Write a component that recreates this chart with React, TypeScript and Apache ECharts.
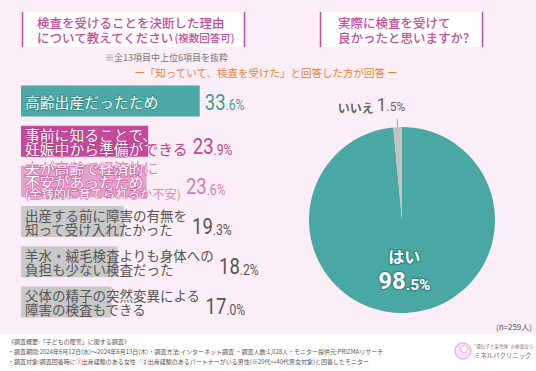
import React, { useEffect, useRef } from 'react';
import * as echarts from 'echarts';

// ---------- data ----------
const categories = [
  '高齢出産だったため',
  '事前に知ることで、\n妊娠中から準備ができる',
  '夫が高齢で経済的に\n不安があったため\n(金銭的に育てられるか不安)',
  '出産する前に障害の有無を\n知って受け入れたかった',
  '羊水・絨毛検査よりも身体への\n負担も少ない検査だった',
  '父体の精子の突然変異による\n障害の検査もできる',
];
const values = [33.6, 23.9, 23.6, 19.3, 18.2, 17.0];
const pieNames = ['はい', 'いいえ'];
const pieValues = [98.5, 1.5];

const title1 = ['検査を受けることを決断した理由', 'について教えてください', '(複数回答可)'];
const title2 = ['実際に検査を受けて', '良かったと思いますか?'];
const note = '※全13項目中上位6項目を抜粋';
const subNote = 'ー「知っていて、検査を受けた」と回答した方が回答 ー';
const sampleNote = '(n=259人)';
const footerLines = [
  '《調査概要:「子どもの障害」に関する調査》',
  '・調査期間:2024年6月12日(水)～2024年6月13日(木)・調査方法:インターネット調査 ・調査人数:1,028人・モニター提供元:PRIZMAリサーチ',
  '・調査対象:調査回答時に①出産経験のある女性／②出産経験のあるパートナーがいる男性(※20代～40代男女対象)と回答したモニター',
];
const logoLines = ['“遺伝子と染色体”の検査なら', 'ミネルバクリニック'];

// ---------- styles ----------
const FONT = '"Noto Sans CJK JP", "Noto Sans", sans-serif';
const NUM_FONT = 'Roboto, "Liberation Sans", sans-serif';
const HEAD = '#c54d99';
const barColors = ['#4ca9a5', '#c64a9b', '#e6a3cd', '#c9c9c9', '#c9c9c9', '#c9c9c9'];
const outsideText = ['#3f9d99', '#c2438f', '#dd86bd', '#555555', '#555555', '#555555'];
const strokeText = ['#2f8783', '#a93582', '#cf67a7', '', '', ''];
const strokeWidth = [1.4, 1.2, 1.6, 0, 0, 0];
const valueColors = ['#3f9d99', '#c2438f', '#d77ab4', '#555555', '#555555', '#555555'];
const whiteInside = [true, true, true, false, false, false];
const pieColors = ['#4aa8a4', '#c2c2c2'];

let ctx: CanvasRenderingContext2D | null = null;
function measure(text: string, size: number) {
  if (!ctx) ctx = document.createElement('canvas').getContext('2d');
  if (!ctx) return text.length * size;
  ctx.font = `${size}px ${FONT}`;
  return ctx.measureText(text).width;
}

const renderItem = (params: any, api: any) => {
  const i = params.dataIndex;
  const v = api.value(0);
  const p0 = api.coord([0, i]);
  const p1 = api.coord([v, i]);
  const cy = p0[1];
  const tx = p0[0] + 4;
  const lines = categories[i].split('\n');
  const colored = whiteInside[i];
  const mSize = colored ? 14.8 : 13.5;
  const mLH = colored ? (lines.length > 2 ? 13.5 : 14.5) : 14;
  const sSize = 12.3;
  const sLH = 12;
  const isSmall = (l: string) => l.startsWith('(');
  const richText = lines.map((l) => (isSmall(l) ? `{s|${l}}` : `{m|${l}}`)).join('\n');
  const textEnd = tx + Math.max(...lines.map((l) => measure(l, isSmall(l) ? sSize : mSize)));
  const ty = cy - (lines.length > 2 ? 1 : 0);
  const mkRich = (fill: string, stroke?: string, lw?: number) => ({
    m: { fontSize: mSize, lineHeight: mLH, fontFamily: FONT, fill, stroke, lineWidth: lw },
    s: { fontSize: sSize, lineHeight: sLH, fontFamily: FONT, fill, stroke, lineWidth: lw },
  });
  const children: any[] = [];
  children.push({
    type: 'text',
    style: {
      x: tx,
      y: ty,
      text: richText,
      rich: mkRich(outsideText[i]),
      fill: outsideText[i],
      align: 'left',
      verticalAlign: 'middle',
    },
  });
  if (colored) {
    children.push({
      type: 'text',
      style: {
        x: tx,
        y: ty,
        text: richText,
        rich: mkRich('#ffffff', strokeText[i], strokeWidth[i]),
        fill: '#ffffff',
        stroke: strokeText[i],
        lineWidth: strokeWidth[i],
        align: 'left',
        verticalAlign: 'middle',
      },
      clipPath: { type: 'rect', shape: { x: p0[0], y: cy - 17, width: p1[0] - p0[0], height: 34 } },
    });
  }
  const str = v.toFixed(1).split('.');
  children.push({
    type: 'text',
    x: Math.max(p1[0], textEnd) + 5,
    y: cy + (lines.length > 1 ? 5 : 1),
    scaleX: 0.84,
    style: {
      x: 0,
      y: 0,
      text: `{b|${str[0]}}{s|.${str[1]}%}`,
      rich: {
        b: { fontSize: 22, lineHeight: 22, fontFamily: NUM_FONT, fill: valueColors[i], verticalAlign: 'bottom' },
        s: { fontSize: 14.5, lineHeight: 14.5, fontFamily: NUM_FONT, fill: valueColors[i], verticalAlign: 'bottom' },
      },
      align: 'left',
      verticalAlign: 'middle',
    },
  });
  return { type: 'group', children };
};

function buildOption(): any {
  const pieData = pieNames.map((n, i) => ({
    name: n,
    value: pieValues[i],
    itemStyle: { color: pieColors[i] },
    label:
      i === 0
        ? {
            position: 'inside',
            formatter: (p: any) => {
              const s = Number(p.value).toFixed(1).split('.');
              return `{a|${p.name}}\n{b|${s[0]}}{c|.${s[1]}%}`;
            },
            rich: {
              a: { fontSize: 16, fontWeight: 'bold', fontFamily: FONT, color: '#fff', textBorderColor: '#2f8783', textBorderWidth: 2.5, lineHeight: 22 },
              b: { fontSize: 24, fontWeight: 'bold', fontFamily: NUM_FONT, color: '#fff', textBorderColor: '#2f8783', textBorderWidth: 2.5, lineHeight: 26, verticalAlign: 'bottom' },
              c: { fontSize: 15.5, fontWeight: 'bold', fontFamily: NUM_FONT, color: '#fff', textBorderColor: '#2f8783', textBorderWidth: 2.5, lineHeight: 17, verticalAlign: 'bottom' },
            },
          }
        : {
            position: 'outside',
            formatter: (p: any) => {
              const s = Number(p.value).toFixed(1).split('.');
              return `{a|${p.name} }{b|${s[0]}}{c|.${s[1]}%}`;
            },
            rich: {
              a: { fontSize: 12, fontWeight: 'bold', fontFamily: FONT, color: '#666', lineHeight: 18, verticalAlign: 'bottom' },
              b: { fontSize: 18, fontFamily: NUM_FONT, color: '#666', lineHeight: 18, verticalAlign: 'bottom' },
              c: { fontSize: 12, fontFamily: NUM_FONT, color: '#666', lineHeight: 12, verticalAlign: 'bottom' },
            },
          },
    labelLine: i === 0 ? { show: false } : { show: true, length: 8, length2: 0, lineStyle: { color: '#aaaaaa', width: 1 } },
  }));

  const graphic: any[] = [
    // header boxes
    { type: 'rect', shape: { x: 22, y: 12, width: 223, height: 35 }, style: { fill: '#ffffff' } },
    { type: 'line', shape: { x1: 22.5, y1: 12, x2: 22.5, y2: 47 }, style: { stroke: HEAD, lineWidth: 1.5 } },
    { type: 'line', shape: { x1: 244.5, y1: 12, x2: 244.5, y2: 47 }, style: { stroke: HEAD, lineWidth: 1.5 } },
    {
      type: 'text',
      style: {
        x: 37, y: 22, text: title1[0], fill: HEAD, fontSize: 12.5, fontWeight: 500, fontFamily: FONT, verticalAlign: 'middle',
      },
    },
    {
      type: 'text',
      style: {
        x: 37, y: 37, text: `{a|${title1[1]}}{b|${title1[2]}}`, verticalAlign: 'middle',
        rich: {
          a: { fontSize: 12.5, fontWeight: 500, fontFamily: FONT, fill: HEAD },
          b: { fontSize: 10.5, fontWeight: 500, fontFamily: FONT, fill: HEAD },
        },
      },
    },
    { type: 'rect', shape: { x: 320, y: 12, width: 163, height: 35 }, style: { fill: '#ffffff' } },
    { type: 'line', shape: { x1: 320.5, y1: 12, x2: 320.5, y2: 47 }, style: { stroke: HEAD, lineWidth: 1.5 } },
    { type: 'line', shape: { x1: 482.5, y1: 12, x2: 482.5, y2: 47 }, style: { stroke: HEAD, lineWidth: 1.5 } },
    { type: 'text', style: { x: 338, y: 22, text: title2[0], fill: HEAD, fontSize: 12.5, fontWeight: 500, fontFamily: FONT, verticalAlign: 'middle' } },
    { type: 'text', style: { x: 338, y: 37, text: title2[1], fill: HEAD, fontSize: 12.5, fontWeight: 500, fontFamily: FONT, verticalAlign: 'middle' } },
    { type: 'text', style: { x: 228, y: 57, text: note, fill: '#777777', fontSize: 9, fontFamily: FONT, align: 'right', verticalAlign: 'middle' } },
    { type: 'text', style: { x: 266, y: 72, text: subNote, fill: '#e0883a', fontSize: 10.5, fontFamily: FONT, align: 'center', verticalAlign: 'middle' } },
    { type: 'text', style: { x: 532, y: 326, text: sampleNote, fill: '#555555', fontSize: 8, fontFamily: FONT, align: 'right', verticalAlign: 'middle' } },
    // footer
    { type: 'rect', shape: { x: 0, y: 334, width: 536, height: 37 }, style: { fill: '#ffffff' } },
    ...footerLines.map((t, k) => ({
      type: 'text',
      style: { x: 8, y: 341 + k * 10, text: t, fill: '#555555', fontSize: 6, fontFamily: FONT, verticalAlign: 'middle' },
    })),
    { type: 'circle', shape: { cx: 463, cy: 351, r: 8 }, style: { fill: '#fbe3ef', stroke: '#e39bc4', lineWidth: 1 } },
    { type: 'circle', shape: { cx: 464, cy: 349, r: 3.5 }, style: { fill: '#ffffff', stroke: '#e39bc4', lineWidth: 0.8 } },
    { type: 'text', style: { x: 474, y: 346, text: logoLines[0], fill: '#8a6a7c', fontSize: 4.6, fontFamily: FONT, verticalAlign: 'middle' } },
    { type: 'text', style: { x: 474, y: 355, text: logoLines[1], fill: '#7a5a6c', fontSize: 6.4, fontFamily: FONT, verticalAlign: 'middle' } },
  ];

  return {
    animation: false,
    backgroundColor: '#fbeef6',
    grid: { left: 21, right: 249, top: 81, bottom: 49, containLabel: false },
    xAxis: { type: 'value', min: 0, max: 50, show: false },
    yAxis: { type: 'category', data: categories, inverse: true, show: false },
    graphic,
    series: [
      {
        type: 'bar',
        data: values.map((v, i) => ({ value: v, itemStyle: { color: barColors[i] } })),
        barWidth: 31,
        z: 2,
        silent: true,
      },
      {
        type: 'custom',
        data: values.map((v, i) => [v, i]),
        encode: { x: 0, y: 1 },
        renderItem,
        z: 3,
        silent: true,
      },
      {
        type: 'pie',
        center: [402, 220],
        radius: 93,
        startAngle: 90,
        clockwise: true,
        silent: true,
        data: pieData,
        labelLayout: (p: any) =>
          p.dataIndex === 1 ? { dx: 13, dy: -15, labelLinePoints: p.labelLinePoints } : {},
      },
    ],
  };
}

export default function App() {
  const ref = useRef<HTMLDivElement>(null);
  useEffect(() => {
    if (!ref.current) return;
    const chart = echarts.init(ref.current, null, { renderer: 'svg' });
    chart.setOption(buildOption());
    return () => chart.dispose();
  }, []);
  return <div ref={ref} style={{ position: 'fixed', left: 0, top: 0, width: 536, height: 371 }} />;
}
